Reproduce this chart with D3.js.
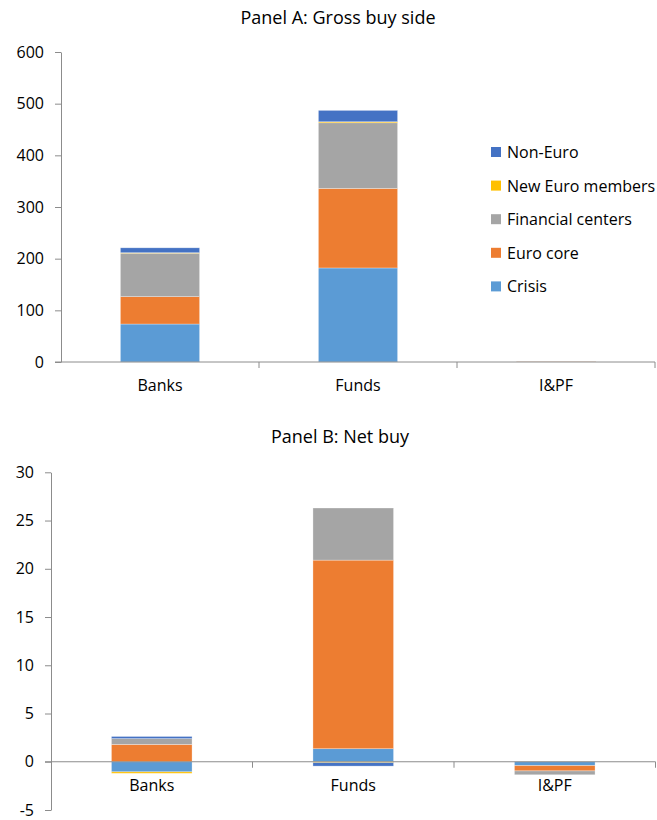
<!DOCTYPE html>
<html>
<head>
<meta charset="utf-8">
<script src="https://cdn.jsdelivr.net/npm/d3@7"></script>
<style>
  body { margin: 0; background: #fff; }
  text { font-family: "Open Sans", "Noto Sans", sans-serif; fill: #000; }
</style>
</head>
<body>
<div id="chart"></div>
<script>
// categories and series (stack order bottom -> top)
var categories = ["Banks", "Funds", "I&PF"];
var seriesNames = ["Crisis", "Euro core", "Financial centers", "New Euro members", "Non-Euro"];
var seriesColors = ["#5b9bd5", "#ed7d31", "#a5a5a5", "#ffc000", "#4472c4"];

// Panel A: gross buy side, one array per series (Banks, Funds, I&PF)
var grossCrisis = [73.5, 182, 0.3];
var grossEuroCore = [53, 154, 1.0];
var grossFinCenters = [84, 127, 0.3];
var grossNewEuro = [1, 2, 0];
var grossNonEuro = [9.5, 22, 0];

// Panel B: net buy
var netCrisis = [-1.05, 1.35, -0.4];
var netEuroCore = [1.8, 19.55, -0.55];
var netFinCenters = [0.6, 5.4, -0.4];
var netNewEuro = [-0.15, -0.1, 0];
var netNonEuro = [0.22, -0.35, 0];

var ticksA = [0, 100, 200, 300, 400, 500, 600];
var ticksB = [-5, 0, 5, 10, 15, 20, 25, 30];

var W = 657, H = 820;
var axisColor = "#8c8c8c";

var svg = d3.select("#chart").append("svg")
    .attr("width", W)
    .attr("height", H);

function buildRows(cols){
    // turn the per-series arrays into one row per category
    return categories.map(function(c, i){
        var row = {category: c};
        seriesNames.forEach(function(s, j){ row[s] = cols[j][i]; });
        return row;
    });
}

function drawPanel(opts){
    var rows = buildRows(opts.cols);

    var x = d3.scaleBand()
        .domain(categories)
        .range([opts.left, opts.right])
        .paddingInner(0.6)
        .paddingOuter(0.3);

    var y = d3.scaleLinear()
        .domain(opts.domain)
        .range([opts.bottom, opts.top]);

    var stack = d3.stack()
        .keys(seriesNames)
        .offset(d3.stackOffsetDiverging);
    var layers = stack(rows);

    var g = svg.append("g");

    // bars
    g.selectAll("g.layer")
        .data(layers)
        .enter()
        .append("g")
            .attr("class", "layer")
            .attr("fill", function(d, i){ return seriesColors[i]; })
        .selectAll("rect")
        .data(function(d){ return d; })
        .enter()
        .append("rect")
            .attr("x", function(d){ return x(d.data.category); })
            .attr("width", x.bandwidth())
            .attr("y", function(d){ return y(Math.max(d[0], d[1])); })
            .attr("height", function(d){ return Math.abs(y(d[0]) - y(d[1])); })
            .attr("stroke", "#ffffff")
            .attr("stroke-opacity", 0.5)
            .attr("stroke-width", 0.6);

    // y axis (plain hyphen for negatives, like the original)
    var yAxis = g.append("g")
        .attr("transform", "translate(" + opts.left + ",0)")
        .call(d3.axisLeft(y).tickValues(opts.ticks)
            .tickFormat(function(d){ return String(d); })
            .tickSize(6).tickSizeOuter(0).tickPadding(11));
    yAxis.selectAll("path, line").attr("stroke", axisColor);
    yAxis.selectAll("text")
        .style("font-size", "16px")
        .style("font-family", "'Open Sans', sans-serif")
        .attr("fill", "#000");

    // category axis at zero
    var y0 = y(0);
    g.append("line")
        .attr("x1", opts.left - 6).attr("x2", opts.right)
        .attr("y1", y0).attr("y2", y0)
        .attr("stroke", axisColor);
    var step = x.step();
    for (var i = 1; i <= categories.length; i++){
        var bx = opts.left + i * step;
        g.append("line")
            .attr("x1", bx).attr("x2", bx)
            .attr("y1", y0).attr("y2", y0 + 6)
            .attr("stroke", axisColor);
    }
    g.selectAll("text.cat")
        .data(categories)
        .enter()
        .append("text")
            .attr("class", "cat")
            .attr("x", function(d){ return x(d) + x.bandwidth() / 2; })
            .attr("y", y0 + 29)
            .attr("text-anchor", "middle")
            .style("font-size", "16px")
            .text(function(d){ return d; });

    // title
    g.append("text")
        .attr("x", opts.titleX)
        .attr("y", opts.titleY)
        .attr("text-anchor", "middle")
        .style("font-size", "18px")
        .text(opts.title);

    return g;
}

drawPanel({
    cols: [grossCrisis, grossEuroCore, grossFinCenters, grossNewEuro, grossNonEuro],
    domain: [0, 600], ticks: ticksA,
    left: 61, right: 655, top: 52, bottom: 362,
    title: "Panel A: Gross buy side", titleX: 338, titleY: 24
});

drawPanel({
    cols: [netCrisis, netEuroCore, netFinCenters, netNewEuro, netNonEuro],
    domain: [-5, 30], ticks: ticksB,
    left: 51, right: 655.5, top: 472.3, bottom: 810,
    title: "Panel B: Net buy", titleX: 340, titleY: 443
});

// legend (top entry is the last series)
var legendOrder = seriesNames.slice().reverse();
var legendColors = seriesColors.slice().reverse();
var legend = svg.append("g").attr("transform", "translate(491,147)");
legend.selectAll("rect")
    .data(legendOrder)
    .enter()
    .append("rect")
        .attr("x", 0)
        .attr("y", function(d, i){ return i * 33.6; })
        .attr("width", 10)
        .attr("height", 10)
        .attr("fill", function(d, i){ return legendColors[i]; });
legend.selectAll("text")
    .data(legendOrder)
    .enter()
    .append("text")
        .attr("x", 16)
        .attr("y", function(d, i){ return i * 33.6 + 11; })
        .style("font-size", "16px")
        .text(function(d){ return d; });
</script>
</body>
</html>
